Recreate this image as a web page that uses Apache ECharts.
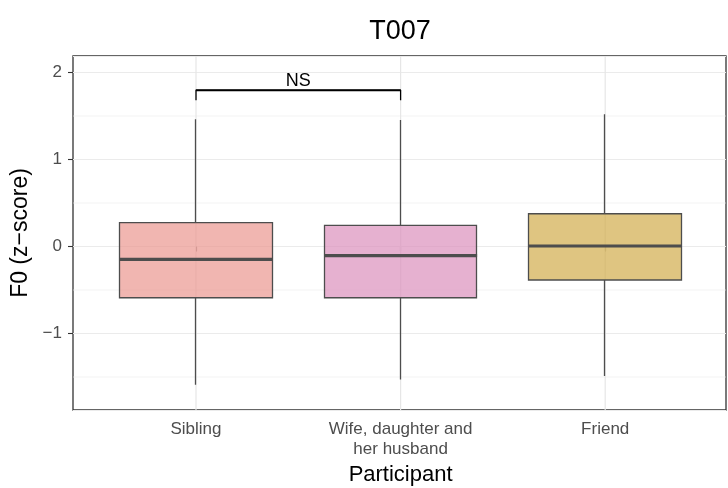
<!DOCTYPE html>
<html><head><meta charset="utf-8">
<script src="https://cdn.jsdelivr.net/npm/echarts@6/dist/echarts.min.js"></script>
<style>html,body{margin:0;padding:0;background:#fff}#c{width:728px;height:488px}</style>
</head><body><div id="c"></div>
<script>
const categories = ['Sibling', 'Wife, daughter and\nher husband', 'Friend'];
const whiskerLow = [-1.59, -1.527, -1.489];
const q1 = [-0.589, -0.589, -0.385];
const median = [-0.147, -0.105, 0.006];
const q3 = [0.274, 0.244, 0.377];
const whiskerHigh = [1.462, 1.454, 1.52];
const fills = ['rgba(235,151,144,0.7)', 'rgba(219,144,188,0.7)', 'rgba(209,172,75,0.7)'];
const minorLines = [-1.5, -0.5, 0.5, 1.5];
const bracketY = 1.80, bracketFoot = 1.68;
const yMin = -1.879, yMax = 2.19;

const font = '"Liberation Sans", Arial, Helvetica, sans-serif';
const chart = echarts.init(document.getElementById('c'));
const minus = v => String(v).replace('-', '\u2212');

const candleData = categories.map((c, i) => ({
  value: [q1[i], q3[i], whiskerLow[i], whiskerHigh[i]],
  itemStyle: { color: fills[i], color0: fills[i], borderColor: '#4d4d4d', borderColor0: '#4d4d4d', borderWidth: 1.3 }
}));

const minorData = [];
minorLines.forEach(v => { minorData.push([0, v], [1, v], [null, null]); });
const vData = [];
categories.forEach(c => { vData.push([c, yMin], [c, yMax], ['-', null]); });

chart.setOption({
  animation: false,
  title: { text: 'T007', left: 395, top: 13, textAlign: 'center',
    textStyle: { fontFamily: font, fontSize: 27, fontWeight: 'normal', color: '#000' } },
  grid: [
    { left: 73, right: 2, top: 56, bottom: 78, show: true, borderColor: '#333', borderWidth: 1.3, backgroundColor: 'transparent', z: 0,
      containLabel: false, outerBoundsMode: 'none' },
    { left: 93.7, right: 20.5, top: 56, bottom: 78, containLabel: false, outerBoundsMode: 'none' }
  ],
  xAxis: [
    { gridIndex: 0, type: 'value', min: 0, max: 1, show: false },
    { gridIndex: 1, type: 'category', data: categories, boundaryGap: true,
      name: 'Participant', nameLocation: 'middle', nameGap: 54,
      nameTextStyle: { fontFamily: font, fontSize: 22, color: '#000' },
      axisLine: { show: false },
      axisTick: { show: true, alignWithLabel: true, length: 5, lineStyle: { color: '#333', width: 1.1 } },
      axisLabel: { fontFamily: font, fontSize: 17, color: '#4d4d4d', margin: 9, lineHeight: 20 },
      splitLine: { show: false } }
  ],
  yAxis: [
    { gridIndex: 0, type: 'value', min: yMin, max: yMax,
      name: 'F0 (z\u2212score)', nameLocation: 'middle', nameGap: 38,
      nameTextStyle: { fontFamily: font, fontSize: 23, color: '#000' },
      axisLine: { show: false },
      axisTick: { show: true, length: 5, lineStyle: { color: '#333', width: 1.1 } },
      axisLabel: { fontFamily: font, fontSize: 17, color: '#4d4d4d', margin: 11, showMinLabel: false, showMaxLabel: false,
        formatter: v => (Math.abs(v - Math.round(v)) < 1e-9 ? minus(Math.round(v)) : '') },
      splitLine: { show: true, lineStyle: { color: '#ebebeb', width: 1.1 } } },
    { gridIndex: 1, type: 'value', min: yMin, max: yMax, show: false }
  ],
  series: [
    { type: 'line', xAxisIndex: 0, yAxisIndex: 0, data: minorData, silent: true, z: 1, symbol: 'none',
      connectNulls: false, lineStyle: { color: '#ebebeb', width: 0.6 } },
    { type: 'line', xAxisIndex: 1, yAxisIndex: 1, data: vData, silent: true, z: 1, symbol: 'none',
      connectNulls: false, lineStyle: { color: '#e6e6e6', width: 1.2 } },
    { type: 'candlestick', xAxisIndex: 1, yAxisIndex: 1, barWidth: 153, z: 3, data: candleData },
    { type: 'scatter', xAxisIndex: 1, yAxisIndex: 1, symbol: 'rect', symbolSize: [153, 3.2], z: 4,
      itemStyle: { color: '#4d4d4d', opacity: 1 }, data: categories.map((c, i) => [c, median[i]]) },
    { type: 'line', xAxisIndex: 1, yAxisIndex: 1, z: 5, symbol: 'none', silent: true,
      lineStyle: { color: '#000', width: 1.3 },
      data: [[categories[0], bracketFoot], [categories[0], bracketY], [categories[1], bracketY], [categories[1], bracketFoot]],
      markLine: { silent: true, symbol: 'none', animation: false,
        lineStyle: { color: '#000', width: 1.3, type: 'solid' },
        label: { show: true, position: 'middle', formatter: 'NS', fontFamily: font, fontSize: 18, color: '#000', distance: 0 },
        data: [[{ coord: [categories[0], bracketY] }, { coord: [categories[1], bracketY] }]] } }
  ]
});
</script></body></html>
